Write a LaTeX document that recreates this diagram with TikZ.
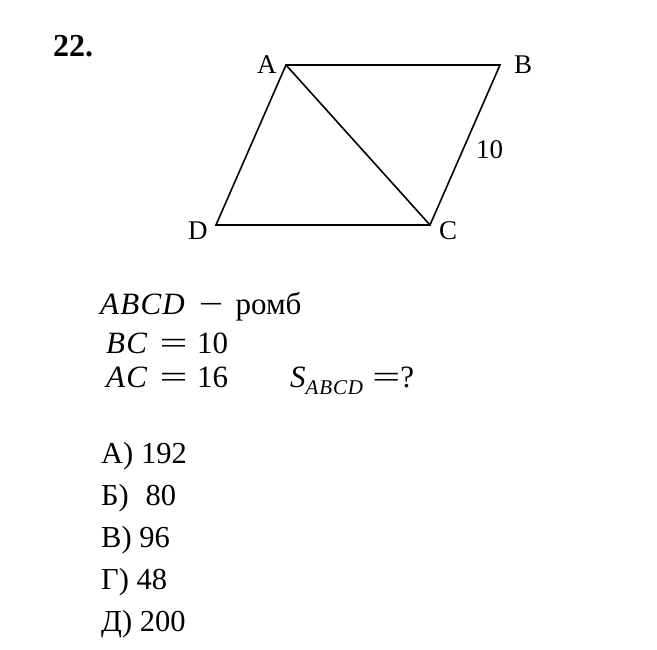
\documentclass[tikz,border=0pt]{standalone}
\usepackage{fontspec}
\usepackage{graphicx}
\setmainfont{Liberation Serif}
\newcommand{\weq}{\scalebox{1.6}[1]{=}}
\begin{document}
\begin{tikzpicture}[x=1pt,y=-1pt,
  edge/.style={line width=1.6pt,line join=miter},
  vlabel/.style={inner sep=0pt,anchor=base west,font=\fontsize{27}{30}\selectfont},
  txt/.style={inner sep=0pt,anchor=base west,font=\fontsize{30.5}{36}\selectfont},
  mtxt/.style={inner sep=0pt,anchor=base west,font=\fontsize{31}{36}\selectfont}]
\useasboundingbox (0,0) rectangle (657,650);
% vertices
\coordinate (A) at (286,65);
\coordinate (B) at (500,65);
\coordinate (C) at (430,225);
\coordinate (D) at (216,225);
\draw[edge] (A) -- (B) -- (C) -- (D) -- cycle;
\draw[edge] (A) -- (C);
% labels
\node[vlabel] (la) at (257,74) {A};
\node[vlabel] (lb) at (514,74) {B};
\node[vlabel] (lc) at (439,240) {C};
\node[vlabel] (ld) at (188,240) {D};
\node[vlabel] (l10) at (476,159) {10};
% number
\node[inner sep=0pt,anchor=base west,font=\fontsize{32}{36}\selectfont\bfseries] (num) at (53,57) {22.};
% conditions
\node[mtxt] (t1) at (100,315) {\textit{A\kern0.04em B\kern0.04em C\kern0.04em D}\hspace{0.45em}\scalebox{1.4}[1]{−}\hspace{0.4em}ромб};
\node[mtxt] (t2) at (106,353) {\textit{B\kern0.04em C}\hspace{0.4em}\weq\hspace{0.3em}10};
\node[mtxt] (t3) at (106,388) {\textit{A\kern0.04em C}\hspace{0.4em}\weq\hspace{0.3em}16};
\node[mtxt] (t4) at (290,388) {\textit{S}\raisebox{-0.22em}{\fontsize{21}{24}\selectfont\textit{A\kern0.04em B\kern0.04em C\kern0.04em D}}\hspace{0.3em}\weq?};
% answers
\node[txt] (a1) at (101,463) {А) 192};
\node[txt] (a2) at (101,505) {Б)\hspace{0.3em} 80};
\node[txt] (a3) at (101,547) {В) 96};
\node[txt] (a4) at (101,589) {Г) 48};
\node[txt] (a5) at (101,631) {Д) 200};
\end{tikzpicture}
\end{document}
